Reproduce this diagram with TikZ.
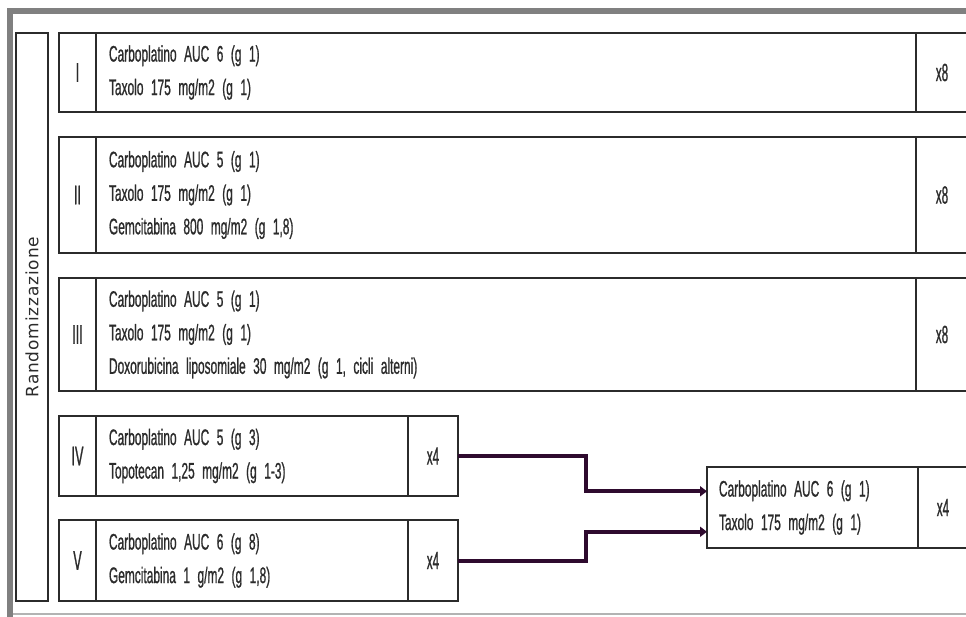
\documentclass[tikz,border=0pt]{standalone}
\usepackage{fontspec}
\setmainfont{Liberation Sans}[FakeStretch=0.53, FakeBold=0.8]
\newfontfamily\narrowfont{Liberation Sans}[FakeStretch=0.47, FakeBold=0.8]
\newfontfamily\spacedfont{DejaVu Sans}[LetterSpace=5]
\usetikzlibrary{arrows.meta, calc}
\usetikzlibrary{positioning}
\definecolor{boxline}{HTML}{2B2B2B}
\definecolor{framegray}{HTML}{808080}
\definecolor{linkpurple}{HTML}{2E0A2E}
\tikzstyle{numbox} = [rectangle, draw=boxline, line width=1.5pt, minimum width=37pt, inner sep=0pt, outer sep=0pt, text=boxline, font=\narrowfont\fontsize{27}{30}\selectfont]
\tikzstyle{drugbox} = [rectangle, draw=boxline, line width=1.5pt, align=left, inner xsep=13pt, inner ysep=0pt, outer sep=0pt, text=boxline, font=\fontsize{22.5}{33.5}\selectfont]
\tikzstyle{countbox} = [rectangle, draw=boxline, line width=1.5pt, inner sep=0pt, outer sep=0pt, text=boxline, font=\narrowfont\fontsize{25}{30}\selectfont]
\tikzstyle{randbox} = [rectangle, draw=boxline, line width=1.5pt, rotate=90, minimum width=568pt, minimum height=32pt, inner sep=0pt, text=boxline, font=\spacedfont\fontsize{17}{18}\selectfont]
\tikzstyle{link} = [line width=4pt, draw=linkpurple, -{Triangle[length=7pt, width=10pt]}]

\begin{document}
\begin{tikzpicture}[x=1pt, y=-1pt, node distance=25pt]
 \useasboundingbox (0,0) rectangle (966,617);
 \clip (0,0) rectangle (966,617);
 % page frame
 \fill [framegray] (7,8) rectangle (966,14);
 \fill [framegray] (7,8) rectangle (13,617);
 \draw [framegray!60, line width=1.5pt] (13,614) -- (966,614);

 \node (rand) [randbox] at (32,317) {Randomizzazione};

 % arm I
 \node (numI) [numbox, minimum height=79pt, anchor=north west] at (59,33) {I};
 \node (drugI) [drugbox, text width=794pt, minimum height=79pt, right=0pt of numI] {Carboplatino AUC 6 (g 1)\\Taxolo 175 mg/m2 (g 1)};
 \node (countI) [countbox, minimum width=52pt, minimum height=79pt, right=0pt of drugI] {x8};

 % arm II
 \node (numII) [numbox, minimum height=116pt, below=25pt of numI] {II};
 \node (drugII) [drugbox, text width=794pt, minimum height=116pt, right=0pt of numII] {Carboplatino AUC 5 (g 1)\\Taxolo 175 mg/m2 (g 1)\\Gemcitabina 800 mg/m2 (g 1,8)};
 \node (countII) [countbox, minimum width=52pt, minimum height=116pt, right=0pt of drugII] {x8};

 % arm III
 \node (numIII) [numbox, minimum height=113pt, below=25pt of numII] {III};
 \node (drugIII) [drugbox, text width=794pt, minimum height=113pt, right=0pt of numIII] {Carboplatino AUC 5 (g 1)\\Taxolo 175 mg/m2 (g 1)\\Doxorubicina liposomiale 30 mg/m2 (g 1, cicli alterni)};
 \node (countIII) [countbox, minimum width=52pt, minimum height=113pt, right=0pt of drugIII] {x8};

 % arm IV
 \node (numIV) [numbox, minimum height=80pt, below=25pt of numIII] {IV};
 \node (drugIV) [drugbox, text width=286pt, minimum height=80pt, right=0pt of numIV] {Carboplatino AUC 5 (g 3)\\Topotecan 1,25 mg/m2 (g 1-3)};
 \node (countIV) [countbox, minimum width=50pt, minimum height=80pt, right=0pt of drugIV] {x4};

 % arm V
 \node (numV) [numbox, minimum height=81pt, below=24pt of numIV] {V};
 \node (drugV) [drugbox, text width=286pt, minimum height=81pt, right=0pt of numV] {Carboplatino AUC 6 (g 8)\\Gemcitabina 1 g/m2 (g 1,8)};
 \node (countV) [countbox, minimum width=50pt, minimum height=81pt, right=0pt of drugV] {x4};

 % follow-up
 \node (drugF) [drugbox, text width=187pt, inner xsep=12pt, minimum height=81pt, anchor=north west] at (707,467) {Carboplatino AUC 6 (g 1)\\Taxolo 175 mg/m2 (g 1)};
 \node (countF) [countbox, minimum width=50pt, minimum height=81pt, right=0pt of drugF] {x4};

 \draw [link] (countIV.east) -- ++(128,0) |- ($(drugF.north west)!0.3!(drugF.south west)$);
 \draw [link] (countV.east) -- ++(128,0) |- ($(drugF.north west)!0.8!(drugF.south west)$);
\end{tikzpicture}
\end{document}
